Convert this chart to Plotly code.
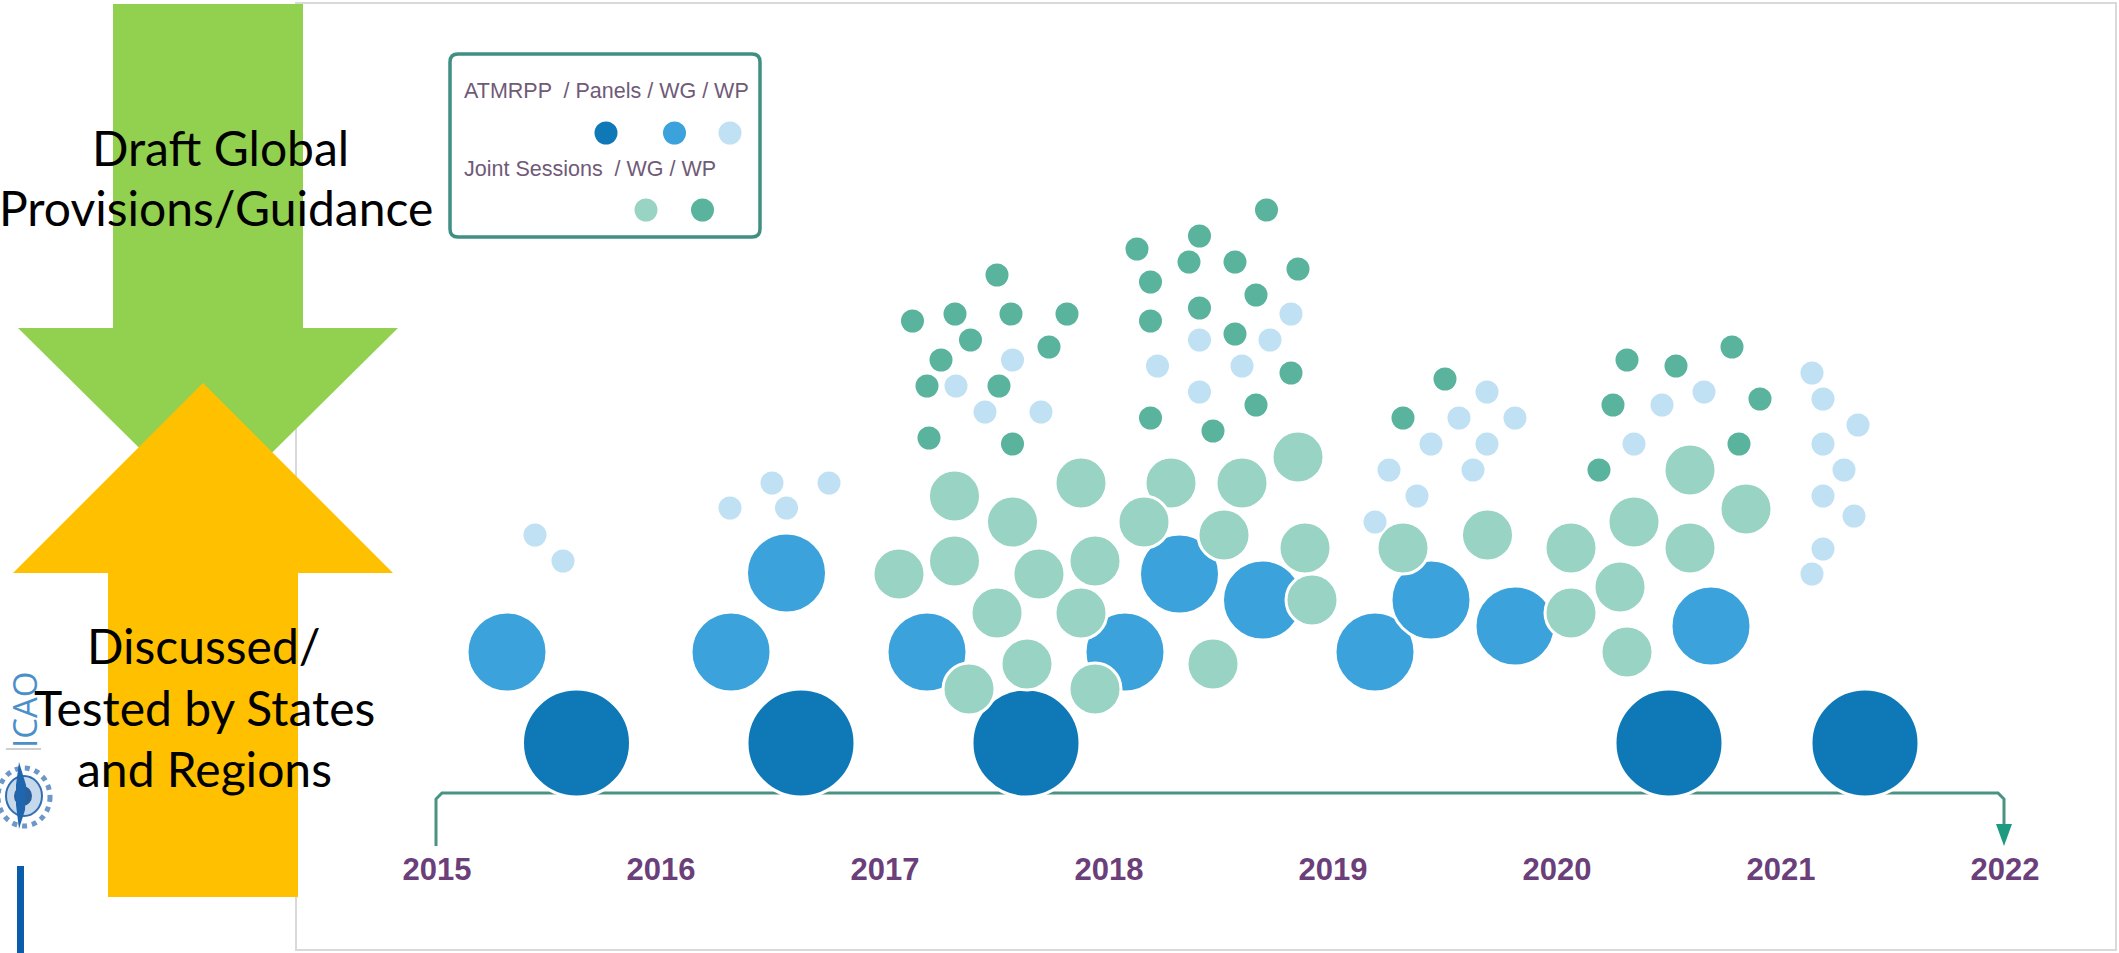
import plotly.graph_objects as go

# Timeline categories
years = ["2015", "2016", "2017", "2018", "2019", "2020", "2021", "2022"]
year_pos = [437, 661, 885, 1109, 1333, 1557, 1781, 2005]

# Series: position along the timeline (x) and stacking height (y)
atmrpp_x = [576.5, 801, 1026, 1669, 1865]
atmrpp_y = [743, 743, 743, 743, 743]

panels_x = [507, 731, 786.5, 927, 1125, 1179.5, 1262.5, 1375, 1431, 1515, 1711]
panels_y = [652, 652, 573, 652, 652, 574, 600, 652, 600, 626, 626]

joint_wg_x = [954.5, 1012.5, 1081, 899, 954.5, 1039, 1095, 997, 1081, 1027, 1213, 1171,
              1144, 1242, 1298, 1224, 1305, 1312, 1403, 1487.5, 1571, 1571, 1620, 1634,
              1690, 1690, 1746, 1627, 969, 1095]
joint_wg_y = [496, 522, 483, 574, 561, 574, 561, 613, 613, 664, 664, 483,
              522, 483, 457, 535, 548, 600, 548, 535, 548, 613, 587, 522,
              470, 548, 509, 652, 689, 689]

joint_wp_x = [997, 912.5, 955, 1011, 1067, 970.5, 1049, 941, 927, 999, 929, 1012.5,
              1266.5, 1199.5, 1137, 1189, 1235, 1298, 1150.5, 1256, 1199.5, 1150.5, 1235,
              1291, 1256, 1150.5, 1213, 1445, 1403, 1627, 1676, 1732, 1613, 1760, 1739, 1599]
joint_wp_y = [275, 321, 314, 314, 314, 340, 347, 360, 386, 386, 438, 444,
              210, 236, 249, 262, 262, 269, 282, 295, 308, 321, 334,
              373, 405, 418, 431, 379, 418, 360, 366, 347, 405, 399, 444, 470]

wp_x = [535, 563, 730, 786.5, 772, 829, 1012.5, 956, 985, 1041, 1291, 1199.5, 1270, 1157.5,
        1242, 1199.5, 1487, 1459, 1515, 1431, 1487, 1389, 1473, 1417, 1375, 1662, 1704, 1634,
        1812, 1823, 1858, 1823, 1844, 1823, 1854, 1823, 1812]
wp_y = [535, 561, 508, 508, 483, 483, 360, 386, 412, 412, 314, 340, 340, 366,
        366, 392, 392, 418, 418, 444, 444, 470, 470, 496, 522, 405, 392, 444,
        373, 399, 425, 444, 470, 496, 516, 549, 574]

# Legend keys and texts
legend_top_x = [606, 674.5, 730]
legend_top_y = [133, 133, 133]
legend_bottom_x = [646, 702.5]
legend_bottom_y = [210, 210]
legend_text_top = "ATMRPP  / Panels / WG / WP"
legend_text_bottom = "Joint Sessions  / WG / WP"

# Timeline path
line_x = [436, 436, 442, 1998, 2004, 2004]
line_y = [846, 799, 793, 793, 799, 826]
head_x = [1996, 2012, 2004, 1996]
head_y = [824, 824, 846, 824]

# Big arrows
green_x = [113, 303, 303, 398, 208, 18, 113, 113]
green_y = [4, 4, 328, 328, 516, 328, 328, 4]
orange_x = [108, 298, 298, 393, 203, 13, 108, 108]
orange_y = [897, 897, 573, 573, 383, 573, 573, 897]

DARK = "#0F78B7"
MID = "#3BA2DB"
LIGHT = "#C0E0F3"
GLIGHT = "#99D3C4"
GDARK = "#5AB39D"
PURPLE = "#6B3F7A"

fig = go.Figure()

# timeline
fig.add_trace(go.Scatter(x=line_x, y=line_y, mode="lines", name="timeline",
                         line=dict(color="#4A9384", width=3)))
fig.add_trace(go.Scatter(x=head_x, y=head_y, mode="lines", fill="toself", name="arrow",
                         fillcolor="#1D9A80", line=dict(color="#1D9A80", width=0)))


def bubbles(x, y, color, size, name, lw=3):
    fig.add_trace(go.Scatter(x=x, y=y, mode="markers", name=name,
                             marker=dict(color=color, size=size,
                                         line=dict(color="white", width=lw))))


bubbles(atmrpp_x, atmrpp_y, DARK, 108, "ATMRPP")
bubbles(panels_x, panels_y, MID, 80, "Panels")
bubbles(joint_wg_x, joint_wg_y, GLIGHT, 52, "Joint WG")
bubbles(joint_wp_x, joint_wp_y, GDARK, 23, "Joint WP", 0)
bubbles(wp_x, wp_y, LIGHT, 23, "WP", 0)

# legend keys
bubbles(legend_top_x, legend_top_y, [DARK, MID, LIGHT], 23, "legend top", 0)
bubbles(legend_bottom_x, legend_bottom_y, [GLIGHT, GDARK], 23, "legend bottom", 0)

# big arrows (above the panel, below the captions)
fig.add_trace(go.Scatter(x=green_x, y=green_y, mode="lines", fill="toself", name="down",
                         fillcolor="#92D050", line=dict(width=0, color="#92D050")))
fig.add_trace(go.Scatter(x=orange_x, y=orange_y, mode="lines", fill="toself", name="up",
                         fillcolor="#FFC000", line=dict(width=0, color="#FFC000")))

shapes = [
    # chart panel
    dict(type="rect", x0=296, x1=2116, y0=3, y1=950, layer="below",
         line=dict(color="#D9D9D9", width=2), fillcolor="white"),
    # legend box
    dict(type="path", layer="below",
         path="M 458 54 L 752 54 Q 760 54 760 62 L 760 229 Q 760 237 752 237 "
              "L 458 237 Q 450 237 450 229 L 450 62 Q 450 54 458 54 Z",
         line=dict(color="#3F8F82", width=3.5), fillcolor="white"),
    # side decorations
    dict(type="rect", x0=17, x1=24, y0=866, y1=953, layer="below",
         line=dict(width=0), fillcolor="#0B5CAB"),
    dict(type="line", x0=6, x1=41, y0=749, y1=749, layer="below",
         line=dict(color="#CFCFCF", width=2)),
    dict(type="circle", x0=-2, x1=50, y0=768, y1=826, layer="below",
         line=dict(color="#6C97C6", width=5, dash="dot"), fillcolor="white"),
    dict(type="circle", x0=6, x1=42, y0=776, y1=816, layer="below",
         line=dict(color="#2F6FB0", width=2), fillcolor="#C5D8EC"),
    dict(type="circle", x0=14, x1=32, y0=786, y1=806, layer="below",
         line=dict(width=0), fillcolor="#2A5F9E"),
    dict(type="path", layer="below", path="M 19 762 L 26 785 L 25 810 L 19 829 L 16 805 L 16 785 Z",
         line=dict(width=0), fillcolor="#1F66AE"),
]

annotations = [
    dict(x=220, y=147, text="Draft Global", font=dict(size=48, family="Lato", color="black")),
    dict(x=216, y=207, text="Provisions/Guidance", font=dict(size=48, family="Lato", color="black")),
    dict(x=204, y=645, text="Discussed/", font=dict(size=48, family="Lato", color="black")),
    dict(x=204, y=707, text="Tested by States", font=dict(size=48, family="Lato", color="black")),
    dict(x=204, y=768, text="and Regions", font=dict(size=48, family="Lato", color="black")),
    dict(x=606, y=91, text=legend_text_top,
         font=dict(size=21.5, family="Liberation Sans", color="#6F5A78")),
    dict(x=590, y=169, text=legend_text_bottom,
         font=dict(size=21.5, family="Liberation Sans", color="#6F5A78")),
    dict(x=24, y=710, text="ICAO", textangle=-90,
         font=dict(size=33, family="Open Sans", color="#4A8FC9")),
]
for a in annotations:
    a.update(xref="x", yref="y", showarrow=False, xanchor="center", yanchor="middle")

fig.update_layout(
    width=2119, height=953, margin=dict(l=0, r=0, t=0, b=0),
    paper_bgcolor="white", plot_bgcolor="rgba(0,0,0,0)",
    showlegend=False, shapes=shapes, annotations=annotations,
    xaxis=dict(range=[0, 2119], anchor="free", position=0.11, showgrid=False, zeroline=False,
               showline=False, ticks="", tickvals=year_pos, ticktext=years, automargin=False,
               tickfont=dict(size=31, family="Liberation Sans", color=PURPLE, weight="bold")),
    yaxis=dict(range=[953, 0], visible=False, showgrid=False, zeroline=False),
)

fig.write_html("out.html", config=dict(displayModeBar=False),
               post_script="document.body.style.margin='0';document.documentElement.style.overflow='hidden';")
